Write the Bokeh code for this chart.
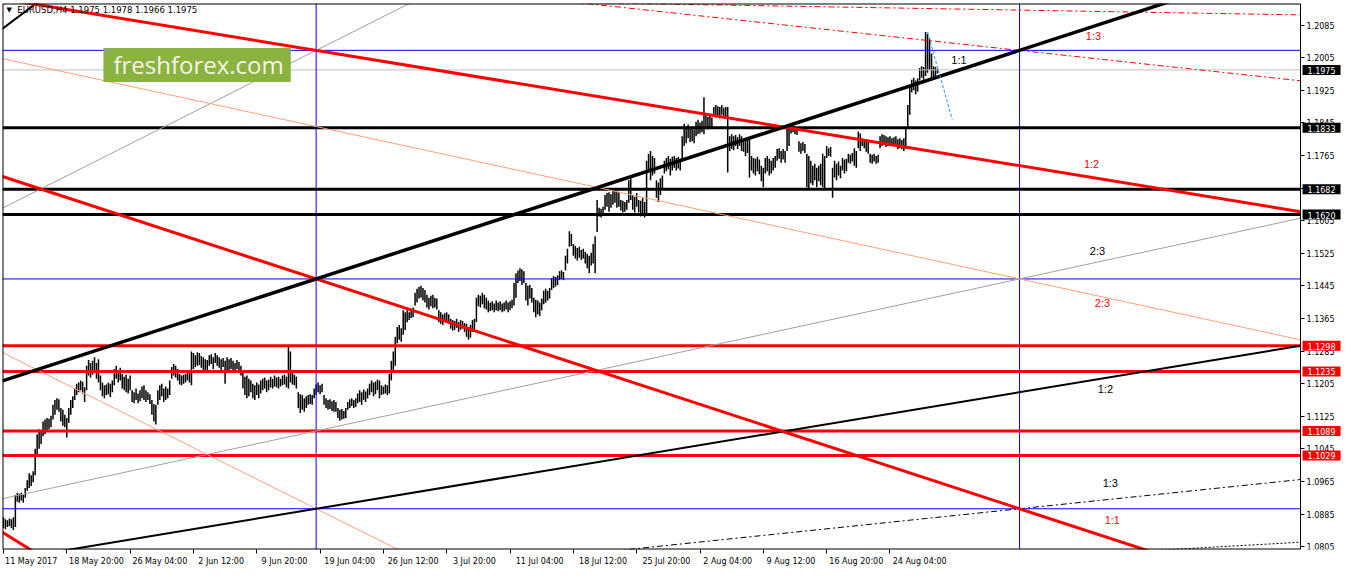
from bokeh.plotting import figure
from bokeh.models import (Range1d, FixedTicker, Label, NumeralTickFormatter,
                          ColumnDataSource, LinearAxis)
from bokeh.core.properties import value
from bokeh.embed import file_html
from bokeh.resources import INLINE

# ---------------- data (EURUSD H4, one entry per bar) ----------------
HIGH = [
    1.0877, 1.0872, 1.0870, 1.0874, 1.0872, 1.0877, 1.0932, 1.0937, 1.0935, 1.0937,
    1.0932, 1.0949, 1.0968, 1.0985, 1.0980, 1.0990, 1.1045, 1.1081, 1.1093, 1.1088,
    1.1112, 1.1117, 1.1121, 1.1119, 1.1126, 1.1153, 1.1165, 1.1169, 1.1167, 1.1145,
    1.1141, 1.1129, 1.1121, 1.1145, 1.1165, 1.1174, 1.1193, 1.1205, 1.1208, 1.1213,
    1.1210, 1.1196, 1.1249, 1.1263, 1.1256, 1.1261, 1.1270, 1.1256, 1.1265, 1.1225,
    1.1208, 1.1201, 1.1203, 1.1208, 1.1205, 1.1213, 1.1241, 1.1249, 1.1237, 1.1244,
    1.1229, 1.1222, 1.1227, 1.1217, 1.1225, 1.1189, 1.1184, 1.1193, 1.1181, 1.1189,
    1.1198, 1.1201, 1.1189, 1.1184, 1.1179, 1.1165, 1.1155, 1.1153, 1.1189, 1.1201,
    1.1205, 1.1193, 1.1198, 1.1193, 1.1213, 1.1246, 1.1253, 1.1249, 1.1241, 1.1229,
    1.1225, 1.1227, 1.1229, 1.1232, 1.1237, 1.1284, 1.1280, 1.1275, 1.1282, 1.1280,
    1.1273, 1.1270, 1.1265, 1.1263, 1.1275, 1.1277, 1.1270, 1.1280, 1.1275, 1.1270,
    1.1265, 1.1268, 1.1261, 1.1270, 1.1265, 1.1268, 1.1261, 1.1256, 1.1263, 1.1258,
    1.1249, 1.1232, 1.1222, 1.1225, 1.1217, 1.1213, 1.1205, 1.1201, 1.1208, 1.1203,
    1.1213, 1.1217, 1.1220, 1.1213, 1.1215, 1.1222, 1.1217, 1.1225, 1.1220, 1.1222,
    1.1217, 1.1225, 1.1227, 1.1222, 1.1296, 1.1284, 1.1232, 1.1227, 1.1222, 1.1184,
    1.1179, 1.1177, 1.1169, 1.1174, 1.1177, 1.1179, 1.1177, 1.1193, 1.1203, 1.1208,
    1.1201, 1.1205, 1.1177, 1.1169, 1.1165, 1.1167, 1.1162, 1.1165, 1.1160, 1.1145,
    1.1141, 1.1143, 1.1138, 1.1145, 1.1160, 1.1167, 1.1169, 1.1165, 1.1169, 1.1181,
    1.1189, 1.1184, 1.1191, 1.1186, 1.1193, 1.1205, 1.1213, 1.1208, 1.1210, 1.1215,
    1.1213, 1.1201, 1.1198, 1.1203, 1.1201, 1.1229, 1.1261, 1.1284, 1.1320, 1.1344,
    1.1349, 1.1341, 1.1385, 1.1380, 1.1385, 1.1380, 1.1387, 1.1392, 1.1428, 1.1438,
    1.1443, 1.1445, 1.1440, 1.1435, 1.1423, 1.1416, 1.1421, 1.1423, 1.1416, 1.1414,
    1.1385, 1.1380, 1.1375, 1.1378, 1.1380, 1.1375, 1.1364, 1.1361, 1.1359, 1.1364,
    1.1356, 1.1361, 1.1359, 1.1354, 1.1352, 1.1344, 1.1349, 1.1361, 1.1364, 1.1416,
    1.1423, 1.1421, 1.1428, 1.1423, 1.1416, 1.1409, 1.1404, 1.1407, 1.1402, 1.1409,
    1.1404, 1.1407, 1.1402, 1.1404, 1.1409, 1.1404, 1.1407, 1.1411, 1.1452, 1.1476,
    1.1483, 1.1488, 1.1486, 1.1481, 1.1452, 1.1445, 1.1447, 1.1440, 1.1416, 1.1411,
    1.1409, 1.1404, 1.1414, 1.1433, 1.1438, 1.1433, 1.1440, 1.1464, 1.1469, 1.1467,
    1.1471, 1.1481, 1.1483, 1.1479, 1.1519, 1.1536, 1.1579, 1.1572, 1.1548, 1.1543,
    1.1538, 1.1541, 1.1533, 1.1536, 1.1529, 1.1524, 1.1519, 1.1526, 1.1548, 1.1567,
    1.1656, 1.1637, 1.1634, 1.1639, 1.1668, 1.1673, 1.1675, 1.1670, 1.1680, 1.1685,
    1.1678, 1.1675, 1.1656, 1.1654, 1.1651, 1.1656, 1.1704, 1.1709, 1.1668, 1.1663,
    1.1673, 1.1656, 1.1654, 1.1661, 1.1651, 1.1752, 1.1769, 1.1776, 1.1764, 1.1759,
    1.1704, 1.1699, 1.1709, 1.1716, 1.1752, 1.1759, 1.1764, 1.1757, 1.1762, 1.1764,
    1.1759, 1.1762, 1.1757, 1.1812, 1.1843, 1.1836, 1.1841, 1.1831, 1.1836, 1.1829,
    1.1848, 1.1853, 1.1846, 1.1850, 1.1908, 1.1865, 1.1860, 1.1865, 1.1858, 1.1884,
    1.1889, 1.1886, 1.1884, 1.1889, 1.1882, 1.1884, 1.1884, 1.1812, 1.1817, 1.1812,
    1.1815, 1.1810, 1.1817, 1.1812, 1.1805, 1.1800, 1.1807, 1.1807, 1.1764, 1.1759,
    1.1757, 1.1762, 1.1755, 1.1740, 1.1735, 1.1759, 1.1764, 1.1757, 1.1752, 1.1759,
    1.1764, 1.1781, 1.1783, 1.1776, 1.1781, 1.1776, 1.1831, 1.1841, 1.1838, 1.1841,
    1.1836, 1.1834, 1.1800, 1.1795, 1.1798, 1.1793, 1.1769, 1.1764, 1.1752, 1.1740,
    1.1745, 1.1735, 1.1740, 1.1745, 1.1769, 1.1764, 1.1788, 1.1783, 1.1786, 1.1735,
    1.1752, 1.1745, 1.1750, 1.1740, 1.1759, 1.1755, 1.1757, 1.1769, 1.1767, 1.1771,
    1.1783, 1.1776, 1.1824, 1.1819, 1.1807, 1.1805, 1.1805, 1.1800, 1.1769, 1.1767,
    1.1769, 1.1764, 1.1767, 1.1812, 1.1817, 1.1815, 1.1812, 1.1810, 1.1812, 1.1807,
    1.1810, 1.1812, 1.1805, 1.1807, 1.1803, 1.1807, 1.1831, 1.1889, 1.1932, 1.1951,
    1.1956, 1.1949, 1.1954, 1.1980, 1.1984, 1.1982, 1.2068, 1.2063, 1.2051, 1.2015,
    1.1984, 1.1982, 1.1978,
]
LOW = [
    1.0851, 1.0848, 1.0853, 1.0855, 1.0851, 1.0846, 1.0853, 1.0915, 1.0913, 1.0918,
    1.0913, 1.0925, 1.0942, 1.0949, 1.0954, 1.0963, 1.0980, 1.1028, 1.1045, 1.1057,
    1.1076, 1.1081, 1.1088, 1.1093, 1.1098, 1.1117, 1.1129, 1.1141, 1.1136, 1.1112,
    1.1102, 1.1098, 1.1073, 1.1109, 1.1129, 1.1145, 1.1165, 1.1177, 1.1184, 1.1189,
    1.1181, 1.1160, 1.1189, 1.1225, 1.1220, 1.1227, 1.1237, 1.1217, 1.1208, 1.1189,
    1.1174, 1.1169, 1.1177, 1.1179, 1.1172, 1.1184, 1.1201, 1.1217, 1.1208, 1.1213,
    1.1193, 1.1189, 1.1184, 1.1181, 1.1189, 1.1160, 1.1157, 1.1165, 1.1157, 1.1162,
    1.1169, 1.1165, 1.1160, 1.1165, 1.1155, 1.1129, 1.1112, 1.1105, 1.1153, 1.1165,
    1.1174, 1.1160, 1.1165, 1.1169, 1.1177, 1.1217, 1.1225, 1.1220, 1.1213, 1.1203,
    1.1201, 1.1205, 1.1208, 1.1213, 1.1208, 1.1201, 1.1241, 1.1246, 1.1249, 1.1251,
    1.1244, 1.1237, 1.1232, 1.1234, 1.1249, 1.1253, 1.1241, 1.1256, 1.1249, 1.1244,
    1.1237, 1.1246, 1.1205, 1.1237, 1.1232, 1.1241, 1.1237, 1.1232, 1.1241, 1.1234,
    1.1225, 1.1193, 1.1177, 1.1169, 1.1174, 1.1184, 1.1169, 1.1165, 1.1177, 1.1169,
    1.1181, 1.1189, 1.1193, 1.1184, 1.1189, 1.1196, 1.1193, 1.1198, 1.1196, 1.1193,
    1.1198, 1.1201, 1.1203, 1.1196, 1.1193, 1.1208, 1.1203, 1.1201, 1.1193, 1.1145,
    1.1133, 1.1141, 1.1136, 1.1145, 1.1153, 1.1155, 1.1153, 1.1169, 1.1177, 1.1184,
    1.1179, 1.1184, 1.1153, 1.1145, 1.1141, 1.1143, 1.1138, 1.1136, 1.1136, 1.1121,
    1.1114, 1.1117, 1.1119, 1.1121, 1.1141, 1.1145, 1.1150, 1.1145, 1.1148, 1.1157,
    1.1160, 1.1153, 1.1165, 1.1160, 1.1169, 1.1177, 1.1184, 1.1174, 1.1179, 1.1189,
    1.1169, 1.1177, 1.1179, 1.1181, 1.1177, 1.1181, 1.1213, 1.1232, 1.1249, 1.1304,
    1.1313, 1.1308, 1.1325, 1.1337, 1.1356, 1.1361, 1.1366, 1.1368, 1.1397, 1.1404,
    1.1414, 1.1416, 1.1409, 1.1404, 1.1392, 1.1387, 1.1395, 1.1390, 1.1392, 1.1387,
    1.1356, 1.1352, 1.1349, 1.1356, 1.1359, 1.1352, 1.1340, 1.1335, 1.1337, 1.1342,
    1.1332, 1.1337, 1.1340, 1.1332, 1.1320, 1.1313, 1.1318, 1.1332, 1.1337, 1.1356,
    1.1395, 1.1392, 1.1400, 1.1390, 1.1387, 1.1380, 1.1383, 1.1385, 1.1380, 1.1385,
    1.1383, 1.1385, 1.1380, 1.1383, 1.1387, 1.1380, 1.1385, 1.1390, 1.1397, 1.1416,
    1.1452, 1.1457, 1.1447, 1.1452, 1.1409, 1.1397, 1.1414, 1.1404, 1.1380, 1.1368,
    1.1375, 1.1371, 1.1385, 1.1400, 1.1404, 1.1409, 1.1414, 1.1435, 1.1440, 1.1443,
    1.1447, 1.1459, 1.1462, 1.1459, 1.1483, 1.1500, 1.1541, 1.1543, 1.1519, 1.1512,
    1.1507, 1.1514, 1.1509, 1.1512, 1.1500, 1.1488, 1.1476, 1.1495, 1.1500, 1.1476,
    1.1577, 1.1615, 1.1613, 1.1618, 1.1632, 1.1639, 1.1627, 1.1637, 1.1644, 1.1649,
    1.1637, 1.1639, 1.1630, 1.1625, 1.1627, 1.1632, 1.1649, 1.1656, 1.1632, 1.1625,
    1.1639, 1.1625, 1.1615, 1.1620, 1.1613, 1.1620, 1.1728, 1.1704, 1.1716, 1.1721,
    1.1661, 1.1651, 1.1668, 1.1680, 1.1721, 1.1726, 1.1731, 1.1716, 1.1728, 1.1735,
    1.1728, 1.1733, 1.1728, 1.1757, 1.1788, 1.1795, 1.1807, 1.1798, 1.1800, 1.1795,
    1.1812, 1.1817, 1.1819, 1.1822, 1.1817, 1.1836, 1.1829, 1.1834, 1.1831, 1.1860,
    1.1858, 1.1863, 1.1856, 1.1865, 1.1856, 1.1860, 1.1723, 1.1776, 1.1781, 1.1778,
    1.1788, 1.1781, 1.1788, 1.1776, 1.1774, 1.1764, 1.1771, 1.1711, 1.1728, 1.1721,
    1.1716, 1.1726, 1.1719, 1.1702, 1.1687, 1.1721, 1.1726, 1.1716, 1.1721, 1.1728,
    1.1735, 1.1752, 1.1757, 1.1747, 1.1755, 1.1747, 1.1776, 1.1788, 1.1819, 1.1822,
    1.1817, 1.1815, 1.1774, 1.1769, 1.1776, 1.1771, 1.1687, 1.1685, 1.1697, 1.1692,
    1.1704, 1.1687, 1.1702, 1.1692, 1.1687, 1.1685, 1.1759, 1.1764, 1.1762, 1.1661,
    1.1711, 1.1704, 1.1716, 1.1709, 1.1728, 1.1721, 1.1726, 1.1747, 1.1745, 1.1750,
    1.1740, 1.1735, 1.1783, 1.1776, 1.1788, 1.1783, 1.1774, 1.1769, 1.1747, 1.1745,
    1.1750, 1.1745, 1.1747, 1.1783, 1.1788, 1.1791, 1.1786, 1.1788, 1.1793, 1.1788,
    1.1791, 1.1788, 1.1781, 1.1783, 1.1781, 1.1776, 1.1781, 1.1831, 1.1865, 1.1920,
    1.1925, 1.1915, 1.1922, 1.1949, 1.1956, 1.1951, 1.1960, 1.1968, 1.1975, 1.1949,
    1.1956, 1.1960, 1.1966,
]

DATE_LABELS = ["11 May 2017", "18 May 20:00", "26 May 04:00", "2 Jun 12:00", "9 Jun 20:00",
               "19 Jun 04:00", "26 Jun 12:00", "3 Jul 20:00", "11 Jul 04:00", "18 Jul 12:00",
               "25 Jul 20:00", "2 Aug 04:00", "9 Aug 12:00", "16 Aug 20:00", "24 Aug 04:00"]
BARS_PER_LABEL = 32

PRICE_TICKS = [1.0805, 1.0885, 1.0965, 1.1045, 1.1125, 1.1205, 1.1285, 1.1365, 1.1445,
               1.1525, 1.1605, 1.1685, 1.1765, 1.1845, 1.1925, 1.2005, 1.2085]

TITLE = "EURUSD,H4  1.1975 1.1978 1.1966 1.1975"
LAST_PRICE = 1.1975
BLACK_LEVELS = [1.1833, 1.1682, 1.1620]
RED_LEVELS = [1.1298, 1.1235, 1.1089, 1.1029]
BLUE_LEVELS = [1.2023, 1.1462, 1.0898]
BLUE_VERTICAL_BARS = [158, 513.5]

# trendline anchors: (bar0, price0, bar1, price1)
FAN_RED_UPPER = (158, 1.2023, 513.5, 1.1740)
FAN_BLACK_MAIN = (158, 1.1462, 513.5, 1.2023)
FAN_RED_MAIN = (158, 1.1462, 513.5, 1.0898)
FAN_BLACK_LOWER = (158, 1.0898, 513.5, 1.1184)
GRAY_LOWER = (158, 1.1089, 513.5, 1.1462)
GRAY_UPPER = (0, 1.1637, 158, 1.2023)
SALMON_UPPER = (158, 1.1836, 513.5, 1.1462)
SALMON_LOWER = (0, 1.1280, 158, 1.0898)
RED_DASH_TOP = (293, 1.2140, 656, 1.2110)
RED_DASH_MID = (429.5, 1.2067, 656, 1.1948)
BLACK_DASHDOT = (513.5, 1.0898, 656, 1.0970)
BLACK_DOT = (590, 1.0798, 656, 1.0816)
BLACK_CORNER = (0.5, 1.2080, 17, 1.2140)
RED_CORNER = (0, 1.0839, 10.5, 1.0807)
BLUE_PROJECTION = (467, 1.2068, 479.5, 1.1853)

RATIO_TEXT = ["1:1", "1:3", "1:2", "2:3", "2:3", "1:2", "1:3", "1:1"]
RATIO_BAR = [479, 547, 546, 549, 551.5, 553, 555.5, 556.5]
RATIO_PRICE = [1.1999, 1.2059, 1.1745, 1.1531, 1.1402, 1.1193, 1.0961, 1.0870]
RATIO_COLOR = ["black", "red", "red", "black", "red", "black", "black", "red"]

# ---------------- figure ----------------
AX_FONT = "DejaVu Sans"
X0, X_AXIS, X1 = -0.5, 655.5, 676.7
Y0, Y1 = 1.0798, 1.2138
p = figure(width=1342, height=568, x_range=Range1d(X0, X1), y_range=Range1d(Y0, Y1),
           y_axis_location=None, output_backend="svg", toolbar_location=None,
           min_border_left=2, min_border_top=3, min_border_right=0, min_border_bottom=12)
p.grid.visible = False
p.outline_line_color = None
p.background_fill_color = "white"
p.border_fill_color = "white"

# price axis drawn at the chart's right edge (MT4 style)
ya = LinearAxis(fixed_location=X_AXIS)
ya.ticker = FixedTicker(ticks=PRICE_TICKS)
ya.formatter = NumeralTickFormatter(format="0.0000")
ya.major_tick_out = 4
ya.major_tick_in = 0
ya.minor_tick_line_color = None
ya.axis_line_color = "black"
ya.major_tick_line_color = "black"
ya.major_label_text_font = AX_FONT
ya.major_label_text_font_size = "8px"
ya.major_label_text_color = "black"
ya.major_label_standoff = 2
p.add_layout(ya, "right")

# x axis (below): labels start at their tick like MT4
tick_pos = [BARS_PER_LABEL * k for k in range(len(DATE_LABELS))]
centers = [t + 1 + round(len(s) * 1.16) for t, s in zip(tick_pos, DATE_LABELS)]
xa = p.xaxis[0]
xa.ticker = FixedTicker(ticks=centers, minor_ticks=tick_pos)
xa.major_label_overrides = {c: s for c, s in zip(centers, DATE_LABELS)}
xa.major_tick_out = 0
xa.major_tick_in = 0
xa.minor_tick_out = 4
xa.minor_tick_in = 0
xa.minor_tick_line_color = "black"
xa.axis_line_color = None
xa.major_label_text_font = AX_FONT
xa.major_label_text_font_size = "8px"
xa.major_label_text_color = "black"
xa.major_label_standoff = 3

# bars
idx = list(range(min(len(HIGH), len(LOW))))
p.segment(x0=idx, y0=LOW[:len(idx)], x1=idx, y1=HIGH[:len(idx)], line_color="black",
          line_width=1.5)


# horizontal / vertical levels (stop at the price axis)
def hline(lv, color, width):
    p.segment(x0=[X0], y0=[lv], x1=[X_AXIS], y1=[lv], line_color=color, line_width=width)


hline(LAST_PRICE, "#c0c0c0", 1)
for lv in BLUE_LEVELS:
    hline(lv, "#0000ff", 1)
for b in BLUE_VERTICAL_BARS:
    p.segment(x0=[b], y0=[Y0], x1=[b], y1=[Y1], line_color="#0000ff", line_width=1)
for lv in BLACK_LEVELS:
    hline(lv, "black", 3)
for lv in RED_LEVELS:
    hline(lv, "#ff0000", 3)


def add_line(anchor, color, width, dash="solid"):
    b0, p0, b1, p1 = anchor
    g = (p1 - p0) / (b1 - b0)
    xs = [X0, X_AXIS]
    ys = [p0 + g * (x - b0) for x in xs]
    p.line(x=xs, y=ys, line_color=color, line_width=width, line_dash=dash)


add_line(GRAY_UPPER, "#a0a0a0", 1)
add_line(GRAY_LOWER, "#a0a0a0", 1)
add_line(SALMON_UPPER, "#ffa07a", 1)
add_line(SALMON_LOWER, "#ffa07a", 1)
add_line(RED_DASH_TOP, "#ff0000", 1, "6 3 2 3")
add_line(RED_DASH_MID, "#ff0000", 1, "6 3 2 3")
add_line(BLACK_DASHDOT, "black", 1, "6 3 2 3")
add_line(BLACK_DOT, "black", 1, "2 2")
add_line(FAN_BLACK_LOWER, "black", 2)
add_line(BLACK_CORNER, "black", 2)
add_line(FAN_RED_UPPER, "#ff0000", 3)
add_line(FAN_RED_MAIN, "#ff0000", 3)
add_line(RED_CORNER, "#ff0000", 3)
add_line(FAN_BLACK_MAIN, "black", 3.5)

bp = BLUE_PROJECTION
p.segment(x0=[bp[0]], y0=[bp[1]], x1=[bp[2]], y1=[bp[3]], line_color="#1e90ff",
          line_width=1, line_dash="3 2")

# chart border (left, top, bottom)
p.segment(x0=[X0, X0, X0], y0=[Y0, Y1, Y0], x1=[X0, X_AXIS, X_AXIS], y1=[Y1, Y1, Y0],
          line_color="black", line_width=2)

# ratio labels
src = ColumnDataSource(dict(x=RATIO_BAR, y=RATIO_PRICE, t=RATIO_TEXT, c=RATIO_COLOR))
p.text(x="x", y="y", text="t", text_color="c", source=src, text_font=value("Liberation Sans"),
       text_font_size="11px", text_baseline="middle", text_align="left")


# price boxes on the axis
def price_box(lv, bg):
    p.add_layout(Label(x=X_AXIS, y=lv, x_offset=2, text=f"{lv:.4f}", text_color="white",
                       text_font=AX_FONT, text_font_size="8px", text_baseline="middle",
                       text_align="left", background_fill_color=bg, background_fill_alpha=1.0,
                       padding=dict(left=5, right=5, top=2, bottom=1)))


price_box(LAST_PRICE, "black")
for lv in BLACK_LEVELS:
    price_box(lv, "black")
for lv in RED_LEVELS:
    price_box(lv, "#ff0000")

# title
p.add_layout(Label(x=1.5, y=1.2123, text="\u25bc", text_font="DejaVu Sans", text_font_size="7px",
                   text_baseline="middle", text_color="black"))
p.add_layout(Label(x=7, y=1.2123, text=TITLE, text_font=AX_FONT, text_font_size="8.5px",
                   text_baseline="middle", text_color="black"))

# watermark
p.add_layout(Label(x=50.5, y=1.1987, text="freshforex.com", text_font="Open Sans",
                   text_font_size="24px", text_baseline="middle", text_color="#f4f4e4",
                   background_fill_color="#8ab340", background_fill_alpha=1.0,
                   padding=dict(left=10, right=7, top=0, bottom=1)))

open("out.html", "w").write(file_html(p, INLINE))
